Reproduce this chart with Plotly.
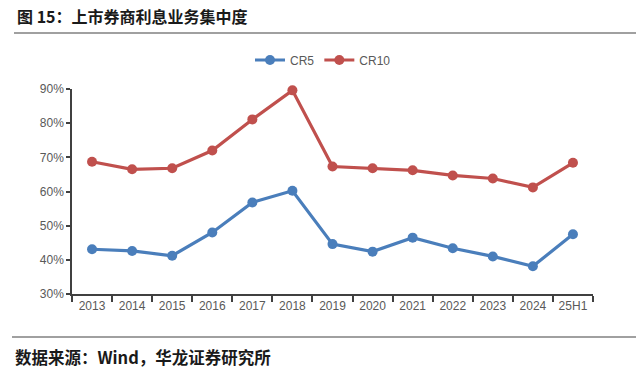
import plotly.graph_objects as go

categories = ["2013", "2014", "2015", "2016", "2017", "2018", "2019", "2020",
              "2021", "2022", "2023", "2024", "25H1"]
cr5 = [43.1, 42.6, 41.2, 48.0, 56.8, 60.2, 44.6, 42.4, 46.5, 43.4, 41.0, 38.1, 47.5]
cr10 = [68.7, 66.5, 66.8, 72.0, 81.1, 89.6, 67.3, 66.8, 66.2, 64.7, 63.8, 61.2, 68.4]
y_ticks = [30, 40, 50, 60, 70, 80, 90]
y_labels = [f"{v}%" for v in y_ticks]

BLUE = "#4a7ebb"
RED = "#c0504d"
TICKFONT = "Liberation Sans, Arial, sans-serif"

fig = go.Figure()
fig.add_trace(go.Scatter(x=categories, y=cr5, name="CR5", mode="lines+markers",
                         line=dict(color=BLUE, width=3.2),
                         marker=dict(color=BLUE, size=10), cliponaxis=False))
fig.add_trace(go.Scatter(x=categories, y=cr10, name="CR10", mode="lines+markers",
                         line=dict(color=RED, width=3.2),
                         marker=dict(color=RED, size=10), cliponaxis=False))

H = 205.0  # plot height in px
W = 521.0  # plot width in px

fig.update_layout(
    width=636, height=370,
    margin=dict(l=72, r=43, t=89, b=76),
    paper_bgcolor="white", plot_bgcolor="white",
    font=dict(family=TICKFONT, color="#595959", size=12),
    showlegend=True,
    legend=dict(orientation="h", x=(250 - 72) / W, xanchor="left", y=(294 - 60) / H,
                yanchor="middle", font=dict(size=12, color="#595959", family=TICKFONT),
                itemwidth=30, tracegroupgap=0, bgcolor="rgba(0,0,0,0)"),
    xaxis=dict(type="category", range=[-0.5, 12.5], showline=True, linecolor="#404040",
               linewidth=1.5, ticks="outside", tickson="boundaries", ticklen=6,
               tickcolor="#404040", tickwidth=1.5, showgrid=False, zeroline=False,
               tickangle=0,
               tickfont=dict(size=12, color="#595959", family=TICKFONT)),
    yaxis=dict(range=[30, 90], tickmode="array", tickvals=y_ticks, ticktext=y_labels,
               showline=True, linecolor="#404040", linewidth=1.5, ticks="outside",
               ticklen=4, tickcolor="#404040", tickwidth=1.5, showgrid=False,
               zeroline=False, tickfont=dict(size=12, color="#595959", family=TICKFONT)),
    shapes=[
        dict(type="line", xref="paper", yref="paper", x0=(14 - 72) / W, x1=(636 - 72) / W,
             y0=(294 - 33) / H, y1=(294 - 33) / H, line=dict(color="#808080", width=1.5)),
        dict(type="line", xref="paper", yref="paper", x0=(12 - 72) / W, x1=(636 - 72) / W,
             y0=(294 - 337) / H, y1=(294 - 337) / H, line=dict(color="#808080", width=1.5)),
    ],
    annotations=[
        dict(text="<b>图 15：上市券商利息业务集中度</b>", xref="paper", yref="paper",
             x=(15 - 72) / W, y=(294 - 16) / H, xanchor="left", yanchor="middle",
             showarrow=False, font=dict(family="Noto Sans CJK SC", size=16, color="#1a1a1a")),
        dict(text="<b>数据来源：Wind，华龙证券研究所</b>", xref="paper", yref="paper",
             x=(13 - 72) / W, y=(294 - 357) / H, xanchor="left", yanchor="middle",
             showarrow=False, font=dict(family="Noto Sans CJK SC", size=16.5, color="#1a1a1a")),
    ],
)

fig.write_html("out.html", config={"displayModeBar": False},
               post_script="document.body.style.margin='0px';")
